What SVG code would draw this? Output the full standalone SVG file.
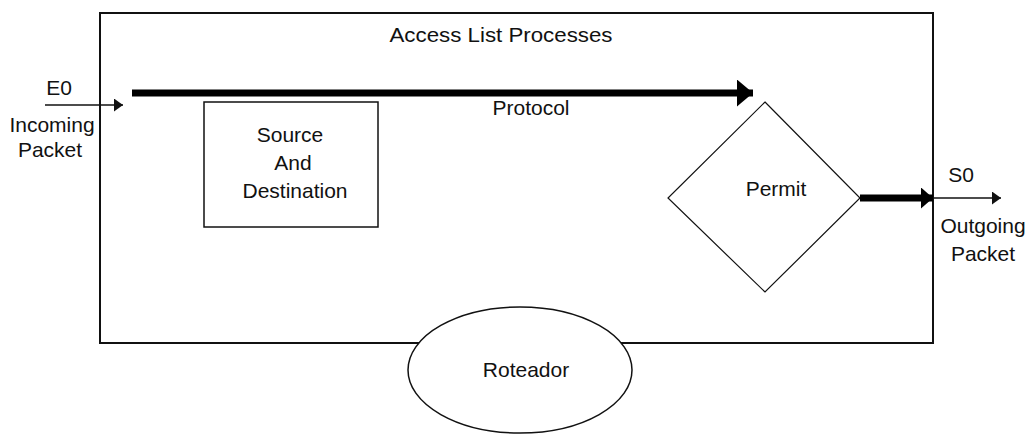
<svg xmlns="http://www.w3.org/2000/svg" width="1030" height="435" viewBox="0 0 1030 435">
  <style>
    .lbl { font-family: "Liberation Sans", Arial, sans-serif; font-size: 21px; fill: #111; text-anchor: middle; }
    .shape { fill: #fff; stroke: #111; }
    .thin { stroke: #111; stroke-width: 1.5; fill: none; }
    .thick { stroke: #000; stroke-width: 7; fill: none; }
  </style>
  <defs>
    <marker id="headThin" viewBox="0 0 10 10" refX="10" refY="5" markerWidth="9" markerHeight="13" markerUnits="userSpaceOnUse" orient="auto" preserveAspectRatio="none">
      <path d="M0,0 L10,5 L0,10 Z" fill="#111"/>
    </marker>
    <marker id="headThick" viewBox="0 0 10 10" refX="10" refY="5" markerWidth="16" markerHeight="27" markerUnits="userSpaceOnUse" orient="auto" preserveAspectRatio="none">
      <path d="M0,0 L10,5 L0,10 Z" fill="#000"/>
    </marker>
    <marker id="headThickSmall" viewBox="0 0 10 10" refX="10" refY="5" markerWidth="12" markerHeight="21" markerUnits="userSpaceOnUse" orient="auto" preserveAspectRatio="none">
      <path d="M0,0 L10,5 L0,10 Z" fill="#000"/>
    </marker>
  </defs>

  <rect width="1030" height="435" fill="#fff"/>

  <!-- router boundary -->
  <g id="access-list">
    <rect class="shape" x="100" y="13" width="833" height="330" stroke-width="2"/>
    <text class="lbl" x="501" y="42" textLength="223" lengthAdjust="spacingAndGlyphs">Access List Processes</text>
  </g>

  <g id="roteador">
    <ellipse class="shape" cx="520" cy="370" rx="112" ry="63" stroke-width="1.5"/>
    <text class="lbl" x="526" y="377">Roteador</text>
  </g>

  <g id="source-destination">
    <rect class="shape" x="204" y="102" width="174" height="125" stroke-width="1.5"/>
    <text class="lbl" x="290" y="142">Source</text>
    <text class="lbl" x="293" y="170">And</text>
    <text class="lbl" x="295" y="198">Destination</text>
  </g>

  <g id="permit">
    <polygon class="shape" points="765,102 860,198 765,292 668,198" stroke-width="1.2"/>
    <text class="lbl" x="776" y="196">Permit</text>
  </g>

  <!-- flow arrows -->
  <g id="connectors">
    <line class="thin" x1="45" y1="105" x2="123" y2="105" marker-end="url(#headThin)"/>
    <line class="thick" x1="132" y1="93" x2="753" y2="93" marker-end="url(#headThick)"/>
    <line class="thick" x1="860" y1="198" x2="933" y2="198" marker-end="url(#headThickSmall)"/>
    <line class="thin" x1="933" y1="198" x2="1001" y2="198" marker-end="url(#headThin)"/>
  </g>

  <g id="labels">
    <text class="lbl" x="531" y="115" textLength="77" lengthAdjust="spacingAndGlyphs">Protocol</text>
    <text class="lbl" x="59" y="95">E0</text>
    <text class="lbl" x="52" y="132">Incoming</text>
    <text class="lbl" x="50" y="157">Packet</text>
    <text class="lbl" x="961" y="182">S0</text>
    <text class="lbl" x="983" y="233">Outgoing</text>
    <text class="lbl" x="983" y="261">Packet</text>
  </g>
</svg>
